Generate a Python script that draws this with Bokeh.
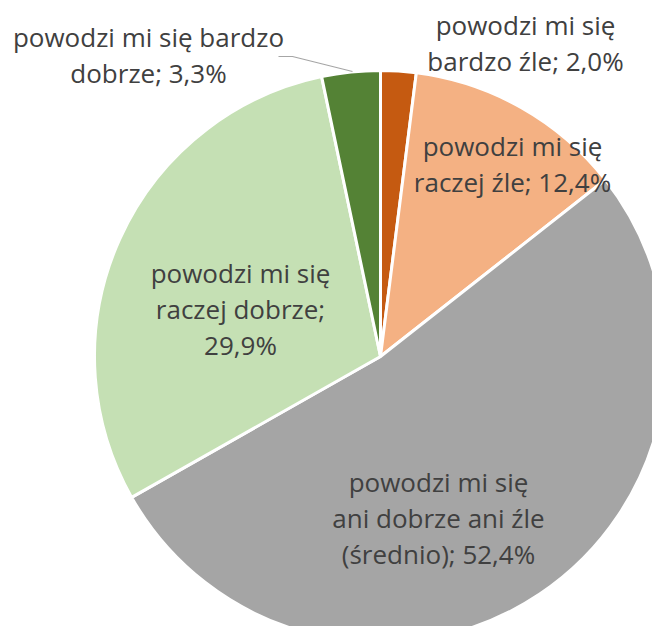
import math
from bokeh.plotting import figure
from bokeh.models import Range1d, ColumnDataSource
from bokeh.core.properties import value
from bokeh.embed import file_html
from bokeh.resources import INLINE

# Data
categories = ["powodzi mi się bardzo źle", "powodzi mi się raczej źle",
              "powodzi mi się ani dobrze ani źle (średnio)",
              "powodzi mi się raczej dobrze", "powodzi mi się bardzo dobrze"]
values = [2.0, 12.4, 52.4, 29.9, 3.3]
label_texts = ["powodzi mi się\nbardzo źle; 2,0%",
               "powodzi mi się\nraczej źle; 12,4%",
               "powodzi mi się\nani dobrze ani źle\n(średnio); 52,4%",
               "powodzi mi się\nraczej dobrze;\n29,9%",
               "powodzi mi się bardzo\ndobrze; 3,3%"]

# Styles / layout
colors = ["#C55A11", "#F4B183", "#A5A5A5", "#C5E0B4", "#548235"]
W, H = 652, 626
IMG_H = 642
cx, cy_img, R = 380, 356, 286
label_pos_img = [(525, 42), (512, 163), (438, 517), (240, 308), (148, 54)]

def ty(y_img):
    return IMG_H - y_img

total = sum(values)
starts, ends = [], []
cum = 0.0
for v in values:
    starts.append(math.pi / 2 - 2 * math.pi * cum / total)
    cum += v
    ends.append(math.pi / 2 - 2 * math.pi * cum / total)

p = figure(width=W, height=H, output_backend="svg", toolbar_location=None,
           x_range=Range1d(0, W), y_range=Range1d(IMG_H - H, IMG_H),
           x_axis_type=None, y_axis_type=None, min_border=0)
p.grid.visible = False
p.outline_line_color = None
p.background_fill_color = "white"
p.border_fill_color = "white"

src = ColumnDataSource(dict(start=starts, end=ends, color=colors, cat=categories))
p.wedge(x=cx, y=ty(cy_img), radius=R, start_angle="start", end_angle="end",
        direction="clock", fill_color="color", line_color="white", line_width=3,
        source=src)

# leader line for the small slice label
p.line(x=[278, 292, 352], y=[ty(56), ty(56), ty(71)], line_color="#A6A6A6", line_width=1.2)

lsrc = ColumnDataSource(dict(x=[q[0] for q in label_pos_img],
                             y=[ty(q[1]) for q in label_pos_img],
                             text=label_texts))
p.text(x="x", y="y", text="text", source=lsrc, text_align="center",
       text_baseline="middle", text_font=value("Open Sans"),
       text_font_size="26px", text_color="#404040", text_line_height=1.0)

open("out.html", "w").write(file_html(p, INLINE))
